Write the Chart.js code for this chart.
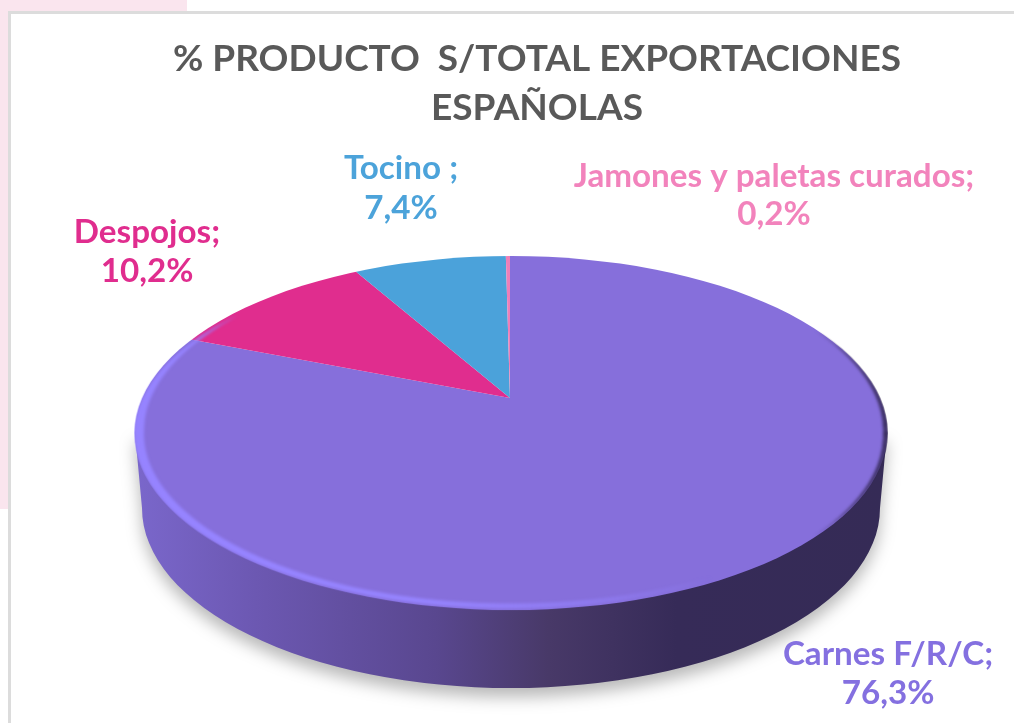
<!DOCTYPE html>
<html><head><meta charset="utf-8">
<style>
html,body{margin:0;padding:0;background:#fff;overflow:hidden}
#wrap{position:relative;width:1014px;height:723px;background:#fff}
.b{position:absolute}
canvas{position:absolute;left:0;top:0}
</style>
<script src="https://cdn.jsdelivr.net/npm/chart.js@4"></script>
</head><body>
<div id="wrap">
<div class="b" style="left:0;top:0;width:187px;height:11px;background:#FAE5EE"></div>
<div class="b" style="left:0;top:0;width:8px;height:509px;background:#FAE5EE"></div>
<div class="b" style="left:8px;top:11px;right:0;height:3px;background:#DCDCDC"></div>
<div class="b" style="left:8px;top:11px;width:3px;bottom:0;background:#DCDCDC"></div>
<canvas id="c" width="1014" height="723"></canvas>
</div>
<script>
const titleLines = ['% PRODUCTO  S/TOTAL EXPORTACIONES', 'ESPAÑOLAS'];
const categories = ['Carnes F/R/C', 'Despojos', 'Tocino ', 'Jamones y paletas curados'];
const values = [76.3, 10.2, 7.4, 0.2];
const valueLabels = ['76,3%', '10,2%', '7,4%', '0,2%'];
const colors = ['#866FDB', '#E02D8E', '#4BA2DA', '#EE7FB9'];
const labelColors = ['#8470E0', '#E02D8E', '#4CA3DA', '#F283BC'];

// picture geometry (not data)
const apex = {x: 510, y: 398}, squash = 0.456;
const topE = {x: 511, y: 433, rx: 376, ry: 177};
const botE = {x: 511, y: 508, rx: 369, ry: 180};
const labelPos = [[888, 665, 704], [147, 243, 282], [401, 179, 219], [774, 187, 225]];
const FONT = '"Lato"';

function ellipsePt(a, inset) {
  return [topE.x + (topE.rx - inset) * Math.cos(a), topE.y + (topE.ry - inset) * Math.sin(a)];
}
function rimStroke(g, from, to, inset, fn) {
  const n = 240;
  for (let i = 0; i < n; i++) {
    const t0 = i / n, t1 = (i + 1.3) / n;
    const a0 = from + (to - from) * t0, a1 = from + (to - from) * t1;
    const s = fn(t0);
    if (s.w <= 0 || s.o <= 0) continue;
    const p0 = ellipsePt(a0, inset), p1 = ellipsePt(a1, inset);
    g.globalAlpha = s.o;
    g.lineWidth = s.w;
    g.beginPath(); g.moveTo(p0[0], p0[1]); g.lineTo(p1[0], p1[1]); g.stroke();
  }
  g.globalAlpha = 1;
}

const pie3d = {
  id: 'pie3d',
  beforeDatasetDraw(chart, args) {
    const ctx = chart.ctx, el = args.meta.data[0];
    ctx.save();
    // shadow + side wall
    ctx.save();
    const g = ctx.createLinearGradient(topE.x - topE.rx, 0, topE.x + topE.rx, 0);
    g.addColorStop(0, '#7A67CB');
    g.addColorStop(0.16, '#6C58B2');
    g.addColorStop(0.40, '#59478F');
    g.addColorStop(0.55, '#483968');
    g.addColorStop(0.72, '#362B58');
    g.addColorStop(1, '#352B56');
    ctx.beginPath();
    ctx.moveTo(topE.x - topE.rx, topE.y);
    ctx.lineTo(botE.x - botE.rx, botE.y);
    ctx.ellipse(botE.x, botE.y, botE.rx, botE.ry, 0, Math.PI, 0, true);
    ctx.lineTo(topE.x + topE.rx, topE.y);
    ctx.closePath();
    ctx.shadowColor = 'rgba(0,0,0,0.28)';
    ctx.shadowBlur = 16;
    ctx.shadowOffsetX = 0;
    ctx.shadowOffsetY = 9;
    ctx.fillStyle = g;
    ctx.fill();
    ctx.restore();
    // top face: the library's arcs, squashed and trimmed to the ellipse
    ctx.beginPath();
    ctx.ellipse(topE.x, topE.y, topE.rx, topE.ry, 0, 0, Math.PI * 2);
    ctx.clip();
    ctx.translate(apex.x, apex.y);
    ctx.scale(1, squash);
    ctx.translate(-el.x, -el.y);
  },
  afterDatasetDraw(chart) {
    const ctx = chart.ctx;
    ctx.restore();
    // bevel painted on a scratch canvas, then softened
    const off = document.createElement('canvas');
    off.width = chart.width; off.height = chart.height;
    const o = off.getContext('2d');
    o.lineCap = 'butt';
    o.strokeStyle = '#9684FF';
    rimStroke(o, Math.PI * 1.24, Math.PI * 0.32, 4, t => {
      const w = t < 0.25 ? 10 * t / 0.25 : 10 - 5 * Math.min(1, (t - 0.25) / 0.4);
      const op = t > 0.72 ? Math.max(0, 1 - (t - 0.72) / 0.28) : 1;
      return {w, o: op};
    });
    o.strokeStyle = '#362B58';
    rimStroke(o, -Math.PI * 0.2, Math.PI * 0.2, 1, t => {
      const w = t < 0.5 ? 6 * t / 0.5 : 6 * (1 - (t - 0.5) / 0.5);
      return {w, o: 0.9};
    });
    ctx.save();
    ctx.beginPath();
    ctx.ellipse(topE.x, topE.y, topE.rx + 1, topE.ry + 1, 0, 0, Math.PI * 2);
    ctx.clip();
    ctx.filter = 'blur(1.8px)';
    ctx.drawImage(off, 0, 0);
    ctx.restore();
  },
  afterDraw(chart) {
    const ctx = chart.ctx;
    ctx.save();
    ctx.textAlign = 'center';
    ctx.textBaseline = 'alphabetic';
    ctx.font = 'bold 33.2px ' + FONT;
    categories.forEach((c, i) => {
      const p = labelPos[i];
      ctx.fillStyle = labelColors[i];
      ctx.fillText(c + ';', p[0], p[1]);
      ctx.fillText(valueLabels[i], p[0], p[2]);
    });
    ctx.restore();
  }
};

new Chart(document.getElementById('c'), {
  type: 'pie',
  data: {
    labels: categories,
    datasets: [{
      data: values,
      backgroundColor: colors,
      borderWidth: 0,
      radius: 600,
      clip: false
    }]
  },
  options: {
    responsive: false,
    animation: false,
    events: [],
    rotation: 0,
    layout: {padding: {left: 60}},
    plugins: {
      legend: {display: false},
      tooltip: {enabled: false},
      title: {
        display: true,
        text: titleLines,
        color: '#595959',
        font: {family: FONT, size: 37, weight: 'bold', lineHeight: 1.34},
        padding: {top: 34, bottom: 10}
      }
    }
  },
  plugins: [pie3d]
});
</script>
</body></html>
